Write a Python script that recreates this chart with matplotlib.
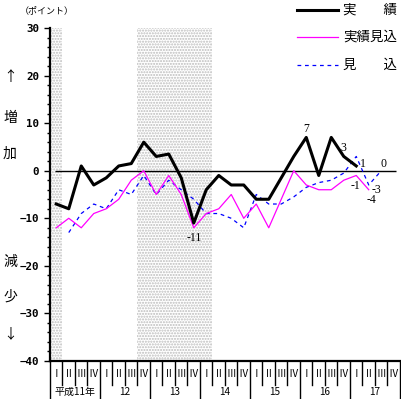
import matplotlib.pyplot as plt
import numpy as np
from matplotlib.lines import Line2D

plt.rcParams['font.family'] = ['Noto Sans CJK JP', 'DejaVu Sans']

# quarterly diffusion index (points), 平成11年 I ～ 平成17年 IV
years = ["平成11年", "12", "13", "14", "15", "16", "17"]
quarters = ["Ⅰ", "Ⅱ", "Ⅲ", "Ⅳ"]

jisseki = [-7, -8, 1, -3, -1.5, 1, 1.5, 6, 3, 3.5, -1.5, -11, -4, -1,
           -3, -3, -6, -6, -1.5, 3, 7, -1, 7, 3, 1]
jisseki_mikomi = [-12, -10, -12, -9, -8, -6, -2, 0, -5, -1, -5, -12, -9, -8,
                  -5, -10, -7, -12, -6, 0, -3, -4, -4, -2, -1, -4]
mikomi = [np.nan, -13, -9, -7, -8, -4, -5, -1, -5, -2, -4, -6, -9, -9,
          -10, -12, -5, -7, -7, -5.5, -3.5, -2.5, -2, -0.5, 3, -3, 0]

# shaded quarters (first, last index)
shaded = [(0, 0), (7, 12)]

W, H = 402, 399
fig = plt.figure(figsize=(W / 100, H / 100), dpi=100)
ax = fig.add_axes([50 / W, 1 - 361 / H, 350 / W, 333 / H])

for a, b in shaded:
    ax.axvspan(a - 0.5, b + 0.5, facecolor='white', edgecolor='#bcbcbc',
               hatch='......', lw=0, zorder=0)

ax.hlines(0, -0.1, 27.2, color='black', lw=1.0, zorder=1)

ax.plot(np.arange(len(mikomi)), mikomi, color='#0000ff', lw=0.9,
        ls=(0, (3, 3)), zorder=2)
ax.plot(np.arange(len(jisseki_mikomi)), jisseki_mikomi, color='#ff00ff',
        lw=0.9, zorder=3)
ax.plot(np.arange(len(jisseki)), jisseki, color='black', lw=2.2, zorder=4)

# value labels
lab = dict(family='Liberation Serif', fontsize=8.5, ha='center', va='center')
ax.text(11, jisseki[11] - 3.2, "-11", **lab)
ax.text(20, jisseki[20] + 1.8, "7", **lab)
ax.text(23, jisseki[23] + 1.8, "3", **lab)
ax.text(24.5, jisseki[24] + 0.5, "1", **lab)
ax.text(23.9, jisseki_mikomi[24] - 2.3, "-1", **lab)
ax.text(25.6, mikomi[25] - 1.0, "-3", **lab)
ax.text(25.2, jisseki_mikomi[25] - 2.1, "-4", **lab)
ax.text(26.2, mikomi[26] + 1.4, "0", **lab)

ax.set_xlim(-0.5, 27.5)
ax.set_ylim(-40, 30)
for s in ['top', 'right']:
    ax.spines[s].set_visible(False)
for s in ['left', 'bottom']:
    ax.spines[s].set_linewidth(1.6)
ax.set_xticks([])
ax.set_yticks(range(-40, 31, 10))
ax.set_yticks(range(-40, 31, 2), minor=True)
ax.tick_params(axis='y', which='major', length=4, width=1, pad=4,
               direction='out')
ax.tick_params(axis='y', which='minor', length=2.5, width=1, direction='out')
for t in ax.get_yticklabels():
    t.set_family('DejaVu Sans Mono')
    t.set_fontsize(7.8)
    t.set_fontweight('bold')

# quarter / year table under the plot
tr = ax.get_xaxis_transform()
n = len(years) * 4
for k in range(n + 1):
    y0 = -0.12 if k % 4 == 0 else -0.072
    ax.plot([k - 0.5, k - 0.5], [0, y0], transform=tr, color='black',
            lw=1.0, clip_on=False)
for k in range(n):
    ax.text(k, -0.04, quarters[k % 4], transform=tr, ha='center',
            va='center', fontsize=7)
for j, yr in enumerate(years):
    ax.text(4 * j + 1.5, -0.092, yr, transform=tr, ha='center',
            va='center', fontsize=7.2)

# side captions
side = [("↑", 77), ("増", 118), ("加", 154), ("減", 262), ("少", 297),
        ("↓", 334)]
for ch, py in side:
    fig.text(10 / W, 1 - py / H, ch, ha='center', va='center', fontsize=10)
fig.text(47 / W, 1 - 11 / H, "（ポイント）", ha='center', va='center',
         fontsize=6.5)

# legend
leg = [("black", 2.2, '-', 10, "実　　績"),
       ("#ff00ff", 0.9, '-', 37, "実績見込"),
       ("#0000ff", 0.9, (0, (3, 3)), 65, "見　　込")]
for c, lw, ls, py, txt in leg:
    yf = 1 - py / H
    fig.add_artist(Line2D([297 / W, 338 / W], [yf, yf], color=c, lw=lw,
                          ls=ls))
    fig.text(343 / W, yf, txt, ha='left', va='center', fontsize=9.7)

fig.savefig("out.png", dpi=100)
